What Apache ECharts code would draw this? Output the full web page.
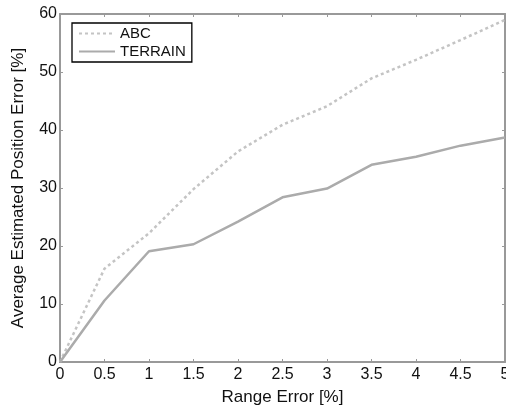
<!DOCTYPE html>
<html><head><meta charset="utf-8">
<script src="https://cdn.jsdelivr.net/npm/echarts@6/dist/echarts.min.js"></script>
<style>html,body{margin:0;padding:0;background:#fff}#c{width:506px;height:405px}</style>
</head><body><div id="c"></div>
<script>
const xValues = [0, 0.5, 1, 1.5, 2, 2.5, 3, 3.5, 4, 4.5, 5];
const abc = [0, 16.1, 22.2, 29.8, 36.3, 40.9, 44.1, 48.9, 52.1, 55.5, 59.0];
const terrain = [0, 10.6, 19.1, 20.3, 24.2, 28.4, 29.9, 34.0, 35.4, 37.3, 38.7];
const seriesNames = ['ABC', 'TERRAIN'];
const xTitle = 'Range Error [%]';
const yTitle = 'Average Estimated Position Error [%]';

const font = 'Liberation Sans, Arial, sans-serif';
const axisCol = '#999';
const chart = echarts.init(document.getElementById('c'));
const pairs = arr => xValues.map((x, i) => [x, arr[i]]);
const baseAxis = {
  axisLine: {show: true, onZero: false, lineStyle: {color: axisCol, width: 2}},
  axisTick: {show: true, inside: true, length: 3, lineStyle: {color: axisCol}},
  splitLine: {show: false}
};
chart.setOption({
  animation: false,
  grid: {left: 60, right: 1, top: 14, bottom: 43, outerBoundsMode: 'none', containLabel: false},
  legend: {
    left: 72, top: 23, orient: 'vertical', itemGap: 3, itemWidth: 36, itemHeight: 12,
    borderColor: '#000', borderWidth: 1.3, padding: [3, 6, 3, 6],
    itemStyle: {opacity: 0},
    textStyle: {fontFamily: font, fontSize: 15, color: '#111'},
    data: seriesNames
  },
  xAxis: [
    Object.assign({}, baseAxis, {
      type: 'value', min: 0, max: 5, interval: 0.5,
      name: xTitle, nameLocation: 'middle', nameGap: 27,
      nameTextStyle: {fontFamily: font, fontSize: 17, color: '#111'},
      axisLabel: {fontFamily: font, fontSize: 16, color: '#111', margin: 5}
    }),
    Object.assign({}, baseAxis, {
      type: 'value', min: 0, max: 5, interval: 0.5, position: 'top',
      axisLabel: {show: false}
    })
  ],
  yAxis: [
    Object.assign({}, baseAxis, {
      type: 'value', min: 0, max: 60, interval: 10,
      name: yTitle, nameLocation: 'middle', nameGap: 33,
      nameTextStyle: {fontFamily: font, fontSize: 17, color: '#111'},
      axisLabel: {fontFamily: font, fontSize: 16, color: '#111', margin: 3}
    }),
    Object.assign({}, baseAxis, {
      type: 'value', min: 0, max: 60, interval: 10, position: 'right',
      axisLabel: {show: false}
    })
  ],
  series: [
    {name: seriesNames[0], type: 'line', data: pairs(abc), showSymbol: false, symbol: 'none',
     lineStyle: {color: '#c4c4c4', width: 2.5, type: [3, 3]}, itemStyle: {color: '#c4c4c4'}},
    {name: seriesNames[1], type: 'line', data: pairs(terrain), showSymbol: false, symbol: 'none',
     lineStyle: {color: '#ababab', width: 2.5}, itemStyle: {color: '#ababab'}}
  ]
});
</script></body></html>
